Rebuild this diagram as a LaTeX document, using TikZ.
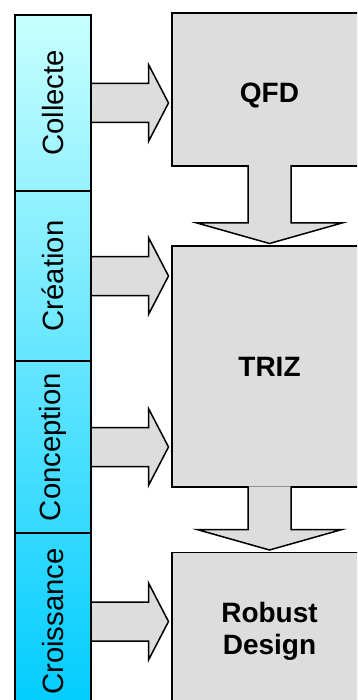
\documentclass[tikz,border=0pt]{standalone}
\usepackage{fontspec}
\setmainfont{Liberation Sans}
\usepackage{graphicx}
\usetikzlibrary{positioning,calc}
\definecolor{barTop}{RGB}{200,255,255}
\definecolor{barBot}{RGB}{0,204,255}
\definecolor{boxGray}{RGB}{221,221,221}
\tikzset{
	stage/.style={draw, line width=1.5pt, minimum width=76pt, inner sep=0pt, outer sep=0pt, font=\fontsize{29.3}{33}\selectfont},
	tool/.style={draw, fill=boxGray, line width=1.5pt, minimum width=195pt, outer sep=0pt, align=center, font=\bfseries\fontsize{28}{32}\selectfont},
	fat/.style={draw, fill=boxGray, line width=1.5pt, line join=miter},
}
% fleche horizontale : etape -> outil
\newcommand{\rarrow}[2]{%
	\draw[fat] let \p1=(#1.east), \p2=(#2.west) in
	(\x1,\y1+19.5pt) -- (\x2-23.5pt,\y1+19.5pt) -- (\x2-23.5pt,\y1+38.5pt) -- (\x2-3.5pt,\y1)
	-- (\x2-23.5pt,\y1-38.5pt) -- (\x2-23.5pt,\y1-19.5pt) -- (\x1,\y1-19.5pt) -- cycle;}
% fleche verticale : outil -> outil
\newcommand{\darrow}[2]{%
	\draw[fat] let \p1=(#1.south), \p2=(#2.north) in
	(\x1-21.5pt,\y1+0.75pt) -- (\x1-21.5pt,\y2+23pt) -- (\x1-72.5pt,\y2+23pt) -- (\x1,\y2+2.5pt)
	-- (\x1+72.5pt,\y2+23pt) -- (\x1+21.5pt,\y2+23pt) -- (\x1+21.5pt,\y1+0.75pt);}
\begin{document}
\begin{tikzpicture}[x=1pt,y=-1pt]
	\useasboundingbox (0,0) rectangle (357,700);
	\clip (0,0) rectangle (357,700);
	\shade[top color=barTop, bottom color=barBot] (15,15) rectangle (91,710);
	\node[stage, minimum height=176pt] (collecte) at (53,103) {\rotatebox{90}{Collecte}};
	\node[stage, minimum height=170pt, below=0pt of collecte] (creation) {\rotatebox{90}{Création}};
	\node[stage, minimum height=172pt, below=0pt of creation] (conception) {\rotatebox{90}{Conception}};
	\node[stage, minimum height=177pt, below=0pt of conception] (croissance) {\rotatebox{90}{Croissance}};
	\node[tool, minimum height=153pt] (qfd) at (269.5,89.5) {\raisebox{-6pt}[\height][\depth]{QFD}};
	\node[tool, minimum height=241pt] (triz) at (269.5,366.5) {TRIZ};
	\node[tool, minimum height=157pt] (robust) at (269.5,631) {Robust\\Design};
	\rarrow{collecte}{qfd}
	\rarrow{creation}{triz}
	\rarrow{conception}{triz}
	\rarrow{croissance}{robust}
	\darrow{qfd}{triz}
	\darrow{triz}{robust}
\end{tikzpicture}
\end{document}
